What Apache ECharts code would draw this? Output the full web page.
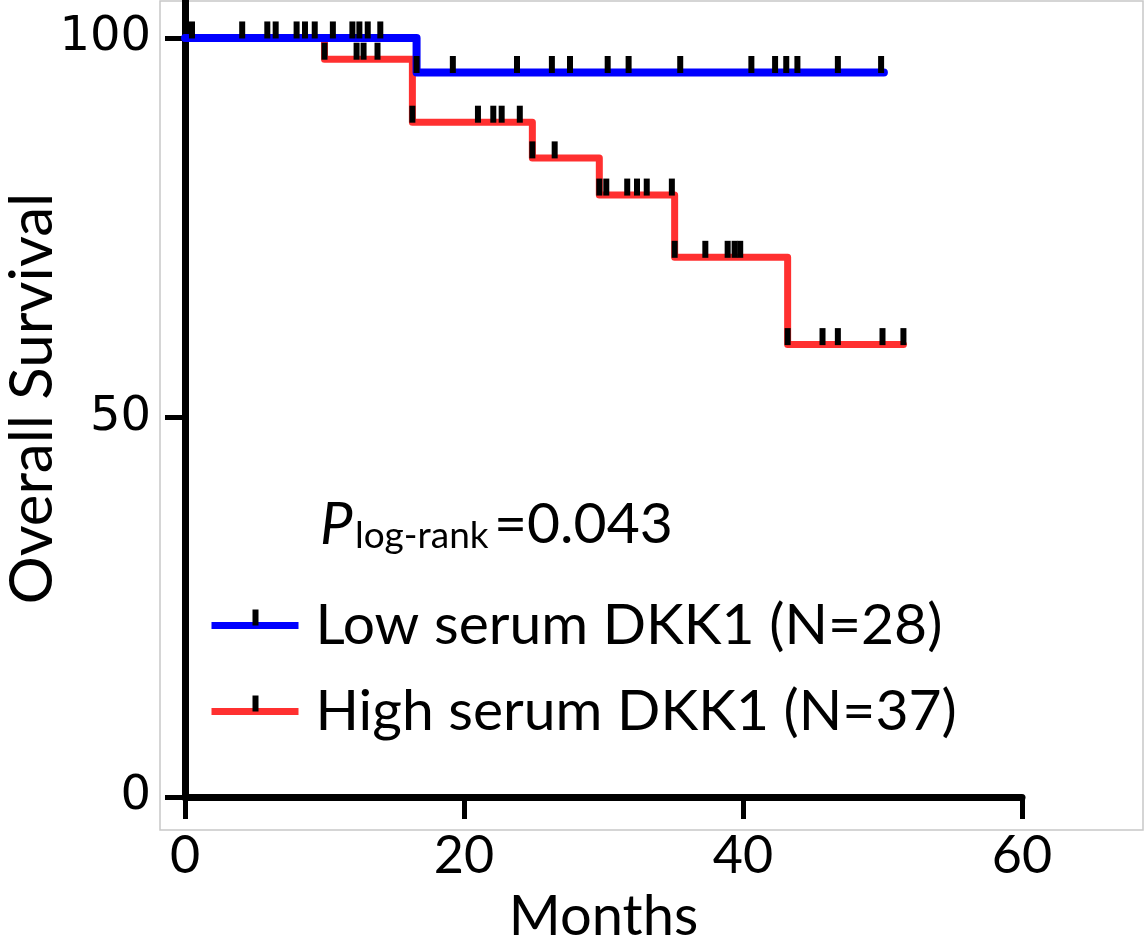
<!DOCTYPE html>
<html>
<head>
<meta charset="utf-8">
<script src="https://cdn.jsdelivr.net/npm/echarts@6/dist/echarts.min.js"></script>
<style>
  html, body { margin: 0; padding: 0; background: #fff; }
  #chart { width: 1145px; height: 949px; }
</style>
</head>
<body>
<div id="chart"></div>
<script>
// Kaplan-Meier steps: month where each level starts, survival (%) of that level
const lowStepMonths = [0, 16.6, 50.1];
const lowStepSurvival = [100, 95.45, 95.45];
const highStepMonths = [0, 10.0, 16.3, 24.9, 29.7, 35.1, 43.2, 51.5];
const highStepSurvival = [100, 97.2, 88.9, 84.2, 79.3, 71.1, 59.6, 59.6];

// censored patients (months)
const lowCensorMonths = [0.5, 4.1, 5.9, 6.5, 8.0, 8.6, 9.3, 10.6, 12.0, 12.5, 13.1, 14.0,
  16.6, 19.2, 23.8, 26.3, 27.6, 30.3, 31.8, 35.5, 40.6, 42.3, 43.1, 43.9, 46.8, 49.9];
const highCensorMonths = [10.0, 12.3, 12.8, 13.8, 16.3, 21.0, 22.1, 22.7, 24.0, 24.9, 26.5,
  29.7, 30.2, 31.7, 32.4, 33.1, 34.9, 35.1, 37.3, 38.9, 39.4, 39.8, 43.2, 45.7, 46.8, 50.0, 51.5];

const xTicks = [0, 20, 40, 60];
const yTicks = [0, 50, 100];

const groupNames = ['Low serum DKK1 (N=28)', 'High serum DKK1 (N=37)'];
const pLabel = ['P', 'log-rank', '=0.043'];

const BLUE = '#0000ff';
const RED = '#ff3030';
const FONT = 'Lato';

function stepPoints(months, survival) {
  return months.map((m, i) => [m, survival[i]]);
}

// level of the curve at a given month (censor marks sit on the curve)
function levelAt(months, survival, t) {
  let level = survival[0];
  for (let i = 0; i < months.length; i++) {
    if (months[i] <= t) level = survival[i];
  }
  return level;
}

function censorPoints(censor, months, survival) {
  return censor.map(t => [t, levelAt(months, survival, t)]);
}

const chart = echarts.init(document.getElementById('chart'), null, { renderer: 'canvas' });

const censorStyle = {
  type: 'scatter',
  symbol: 'rect',
  symbolSize: [6, 17],
  symbolOffset: [0, -8],
  itemStyle: { color: '#000', opacity: 1 },
  silent: true,
  z: 5
};

const option = {
  animation: false,
  backgroundColor: '#fff',
  grid: { left: 185, right: 123, top: 0, bottom: 152, outerBoundsMode: 'none', containLabel: false },
  xAxis: {
    type: 'value',
    min: 0,
    max: 60,
    interval: 20,
    name: 'Months',
    nameLocation: 'middle',
    nameGap: 92,
    nameMoveOverlap: false,
    nameTextStyle: { fontFamily: FONT, fontSize: 56, color: '#000' },
    axisLine: { lineStyle: { color: '#000', width: 7 } },
    axisTick: { length: 22, lineStyle: { color: '#000', width: 5 } },
    axisLabel: { margin: 33, fontFamily: FONT, fontSize: 52, color: '#000' },
    splitLine: { show: false }
  },
  yAxis: {
    type: 'value',
    min: 0,
    max: 105,
    name: 'Overall Survival',
    nameLocation: 'middle',
    nameGap: 122,
    nameMoveOverlap: false,
    nameTextStyle: { fontFamily: FONT, fontSize: 60, color: '#000' },
    axisLine: { lineStyle: { color: '#000', width: 7 } },
    axisTick: { length: 20, lineStyle: { color: '#000', width: 5 }, customValues: yTicks },
    axisLabel: { margin: 34, fontFamily: 'DejaVu Sans', fontSize: 48, color: '#000', customValues: yTicks },
    splitLine: { show: false }
  },
  series: [
    {
      type: 'line',
      step: 'end',
      data: stepPoints(highStepMonths, highStepSurvival),
      showSymbol: false,
      lineStyle: { color: RED, width: 7, cap: 'round', join: 'round' },
      z: 3
    },
    {
      type: 'line',
      step: 'end',
      data: stepPoints(lowStepMonths, lowStepSurvival),
      showSymbol: false,
      lineStyle: { color: BLUE, width: 8, cap: 'round', join: 'round' },
      z: 4
    },
    Object.assign({ data: censorPoints(highCensorMonths, highStepMonths, highStepSurvival) }, censorStyle),
    Object.assign({ data: censorPoints(lowCensorMonths, lowStepMonths, lowStepSurvival) }, censorStyle)
  ],
  graphic: [
    {
      type: 'rect',
      shape: { x: 160, y: 1, width: 983, height: 829 },
      style: { fill: 'none', stroke: '#c8c8c8', lineWidth: 1.5 },
      z: -10,
      silent: true
    },
    {
      type: 'text', left: 320, top: 496,
      style: { text: pLabel[0], fontFamily: FONT, fontStyle: 'italic', fontSize: 58, fill: '#000' }
    },
    {
      type: 'text', left: 355, top: 518,
      style: { text: pLabel[1], fontFamily: FONT, fontSize: 37, fill: '#000' }
    },
    {
      type: 'text', left: 494, top: 496,
      style: { text: pLabel[2], fontFamily: FONT, fontSize: 57, fill: '#000' }
    },
    // legend rows
    {
      type: 'group', left: 208, top: 597,
      children: [
        { type: 'line', shape: { x1: 0, y1: 30, x2: 87, y2: 30 }, style: { stroke: BLUE, lineWidth: 7 } },
        { type: 'rect', shape: { x: 41, y: 14, width: 6, height: 16 }, style: { fill: '#000' } },
        { type: 'text', x: 104, y: 30, style: { text: groupNames[0], fontFamily: FONT, fontSize: 57, fill: '#000', verticalAlign: 'middle' } }
      ]
    },
    {
      type: 'group', left: 208, top: 683,
      children: [
        { type: 'line', shape: { x1: 0, y1: 30, x2: 87, y2: 30 }, style: { stroke: RED, lineWidth: 7 } },
        { type: 'rect', shape: { x: 41, y: 14, width: 6, height: 16 }, style: { fill: '#000' } },
        { type: 'text', x: 104, y: 30, style: { text: groupNames[1], fontFamily: FONT, fontSize: 57, fill: '#000', verticalAlign: 'middle' } }
      ]
    }
  ]
};

chart.setOption(option);
</script>
</body>
</html>
